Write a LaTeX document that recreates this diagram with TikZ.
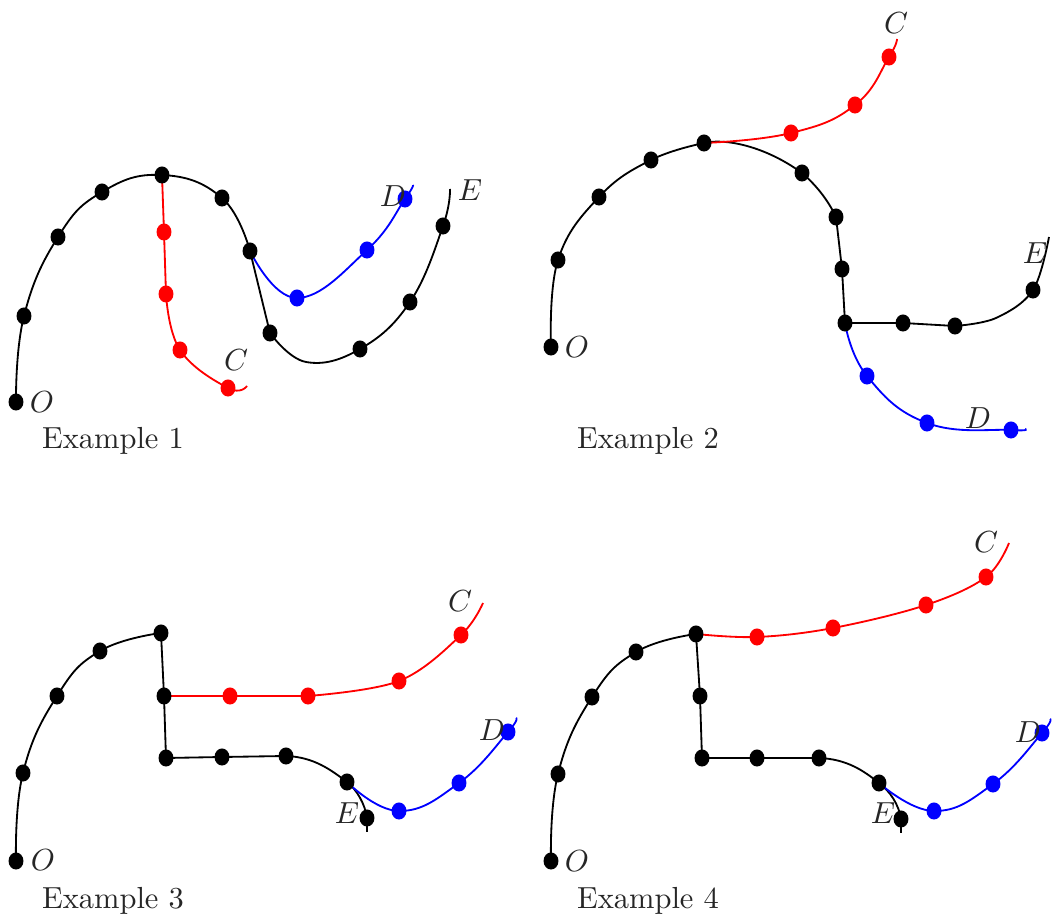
\documentclass[tikz,border=0pt]{standalone}
\usetikzlibrary{shapes.geometric}
\begin{document}
\begin{tikzpicture}[x=0.328pt,y=-0.328pt,
  dotk/.style={ellipse,fill=black,inner sep=0pt,minimum width=4.9pt,minimum height=5.6pt},
  dotr/.style={dotk,fill=red},
  dotb/.style={dotk,fill=blue},
  lbl/.style={text=black!85,inner sep=0pt},
  crv/.style={line width=0.6pt},
  sm/.style={smooth,tension=0.75}]
\useasboundingbox (0,0) rectangle (1053,921);
% ---------- Example 1 ----------
\coordinate (o1) at (16,402);
\coordinate (p1a) at (24,316); \coordinate (p1b) at (58,237); \coordinate (p1c) at (102,192);
\coordinate (p1d) at (162,175); \coordinate (p1e) at (222,198); \coordinate (p1f) at (250,251);
\coordinate (p1g) at (270,333); \coordinate (h1a) at (306,362); \coordinate (p1h) at (360,349);
\coordinate (p1i) at (410,302); \coordinate (p1j) at (443,226); \coordinate (e1) at (450,189);
\coordinate (r1a) at (164,232); \coordinate (r1b) at (166,294); \coordinate (r1c) at (180,350);
\coordinate (r1d) at (228,388); \coordinate (c1) at (247,386);
\coordinate (b1a) at (297,298); \coordinate (b1b) at (367,250); \coordinate (b1c) at (405,199);
\coordinate (d1) at (413,185);
\draw[crv] plot[sm] coordinates {(o1) (p1a) (p1b) (p1c) (p1d) (p1e) (p1f)};
\draw[crv] (p1f) -- (p1g);
\draw[crv] plot[smooth,tension=0.7] coordinates {(p1g) (h1a) (p1h) (p1i) (p1j) (e1)};
\draw[crv,red] (p1d) -- (r1a) -- (r1b);
\draw[crv,red] plot[smooth,tension=0.7] coordinates {(r1b) (r1c) (r1d) (c1)};
\draw[crv,blue] plot[sm] coordinates {(p1f) (b1a) (b1b) (b1c) (d1)};
\foreach \p in {o1,p1a,p1b,p1c,p1d,p1e,p1f,p1g,p1h,p1i,p1j} \node[dotk] (n\p) at (\p) {};
\foreach \p in {r1a,r1b,r1c,r1d} \node[dotr] (n\p) at (\p) {};
\foreach \p in {b1a,b1b,b1c} \node[dotb] (n\p) at (\p) {};
\node[lbl] (lo1) at (42,402) {$O$};
\node[lbl] (lc1) at (236,360) {$C$};
\node[lbl] (ld1) at (393,196) {$D$};
\node[lbl] (le1) at (470,190) {$E$};
\node[lbl] (ex1) at (113,441) {Example 1};
% ---------- Example 2 ----------
\coordinate (o2) at (551,347);
\coordinate (p2a) at (558,260); \coordinate (p2b) at (599,197); \coordinate (p2c) at (651,160);
\coordinate (p2d) at (704,143); \coordinate (p2e) at (802,173);
\coordinate (p2f) at (836,217); \coordinate (p2g) at (842,269); \coordinate (p2h) at (845,323);
\coordinate (p2i) at (903,323); \coordinate (p2j) at (955,326); \coordinate (h2b) at (996,318);
\coordinate (p2k) at (1033,290); \coordinate (e2) at (1049,237);
\coordinate (r2a) at (791,133); \coordinate (r2b) at (855,105); \coordinate (r2c) at (889,57);
\coordinate (c2) at (897,39);
\coordinate (b2a) at (867,376); \coordinate (b2b) at (927,423); \coordinate (b2c) at (1011,430);
\coordinate (d2) at (1025,429);
\draw[crv] plot[smooth,tension=0.7] coordinates {(o2) (p2a) (p2b) (p2c) (p2d)};
\draw[crv] (p2d) .. controls (725,138) and (765,146) .. (p2e) .. controls (816,185) and (828,200) .. (p2f);
\draw[crv] (p2f) -- (p2g) -- (p2h) -- (p2i) -- (p2j);
\draw[crv] plot[smooth,tension=0.6] coordinates {(p2j) (h2b) (p2k) (e2)};
\draw[crv,red] plot[sm] coordinates {(p2d) (r2a) (r2b) (r2c) (c2)};
\draw[crv,blue] plot[sm] coordinates {(p2h) (b2a) (b2b) (b2c) (d2)};
\foreach \p in {o2,p2a,p2b,p2c,p2d,p2e,p2f,p2g,p2h,p2i,p2j,p2k} \node[dotk] (n\p) at (\p) {};
\foreach \p in {r2a,r2b,r2c} \node[dotr] (n\p) at (\p) {};
\foreach \p in {b2a,b2b,b2c} \node[dotb] (n\p) at (\p) {};
\node[lbl] (lo2) at (577,347) {$O$};
\node[lbl] (lc2) at (896,23) {$C$};
\node[lbl] (ld2) at (978,418) {$D$};
\node[lbl] (le2) at (1035,253) {$E$};
\node[lbl] (ex2) at (648,441) {Example 2};
% ---------- Example 3 ----------
\coordinate (o3) at (16,861);
\coordinate (p3a) at (23,773); \coordinate (p3b) at (57,696); \coordinate (p3c) at (100,651);
\coordinate (p3d) at (161,633); \coordinate (p3e) at (164,696); \coordinate (p3f) at (166,758);
\coordinate (p3g) at (222,757); \coordinate (p3h) at (286,756); \coordinate (p3i) at (347,782);
\coordinate (p3j) at (367,818); \coordinate (e3) at (367,832);
\coordinate (r3a) at (230,696); \coordinate (r3b) at (308,696); \coordinate (r3c) at (399,681);
\coordinate (r3d) at (461,635); \coordinate (c3) at (483,603);
\coordinate (b3a) at (399,811); \coordinate (b3b) at (459,783); \coordinate (b3c) at (508,732);
\coordinate (d3) at (516,718);
\draw[crv] plot[sm] coordinates {(o3) (p3a) (p3b) (p3c) (p3d)};
\draw[crv] (p3d) -- (p3e) -- (p3f) -- (p3g) -- (p3h);
\draw[crv] (p3h) .. controls (314,757) and (331,770) .. (p3i) .. controls (357,790) and (365,804) .. (p3j) -- (e3);
\draw[crv,red] (p3e) -- (r3a) -- (r3b);
\draw[crv,red] plot[smooth,tension=0.6] coordinates {(r3b) (r3c) (r3d) (c3)};
\draw[crv,blue] plot[sm] coordinates {(p3i) (b3a) (b3b) (b3c) (d3)};
\foreach \p in {o3,p3a,p3b,p3c,p3d,p3e,p3f,p3g,p3h,p3i,p3j} \node[dotk] (n\p) at (\p) {};
\foreach \p in {r3a,r3b,r3c,r3d} \node[dotr] (n\p) at (\p) {};
\foreach \p in {b3a,b3b,b3c} \node[dotb] (n\p) at (\p) {};
\node[lbl] (lo3) at (43,860) {$O$};
\node[lbl] (lc3) at (460,601) {$C$};
\node[lbl] (ld3) at (492,730) {$D$};
\node[lbl] (le3) at (347,813) {$E$};
\node[lbl] (ex3) at (113,901) {Example 3};
% ---------- Example 4 ----------
\coordinate (o4) at (551,861);
\coordinate (p4a) at (558,774); \coordinate (p4b) at (592,697); \coordinate (p4c) at (636,652);
\coordinate (p4d) at (696,634); \coordinate (p4e) at (700,696); \coordinate (p4f) at (702,758);
\coordinate (p4g) at (757,758); \coordinate (p4h) at (819,758); \coordinate (p4i) at (879,783);
\coordinate (p4j) at (901,819); \coordinate (e4) at (901,833);
\coordinate (r4a) at (757,637); \coordinate (r4b) at (833,628); \coordinate (r4c) at (926,605);
\coordinate (r4d) at (986,577); \coordinate (c4) at (1009,543);
\coordinate (b4a) at (934,811); \coordinate (b4b) at (993,784); \coordinate (b4c) at (1042,733);
\coordinate (d4) at (1050,719);
\draw[crv] plot[sm] coordinates {(o4) (p4a) (p4b) (p4c) (p4d)};
\draw[crv] (p4d) -- (p4e) -- (p4f) -- (p4g) -- (p4h);
\draw[crv] (p4h) .. controls (847,759) and (864,771) .. (p4i) .. controls (890,791) and (899,805) .. (p4j) -- (e4);
\draw[crv,red] plot[smooth,tension=0.6] coordinates {(p4d) (r4a) (r4b) (r4c) (r4d) (c4)};
\draw[crv,blue] plot[sm] coordinates {(p4i) (b4a) (b4b) (b4c) (d4)};
\foreach \p in {o4,p4a,p4b,p4c,p4d,p4e,p4f,p4g,p4h,p4i,p4j} \node[dotk] (n\p) at (\p) {};
\foreach \p in {r4a,r4b,r4c,r4d} \node[dotr] (n\p) at (\p) {};
\foreach \p in {b4a,b4b,b4c} \node[dotb] (n\p) at (\p) {};
\node[lbl] (lo4) at (577,861) {$O$};
\node[lbl] (lc4) at (986,542) {$C$};
\node[lbl] (ld4) at (1028,732) {$D$};
\node[lbl] (le4) at (883,813) {$E$};
\node[lbl] (ex4) at (648,901) {Example 4};
\end{tikzpicture}
\end{document}
